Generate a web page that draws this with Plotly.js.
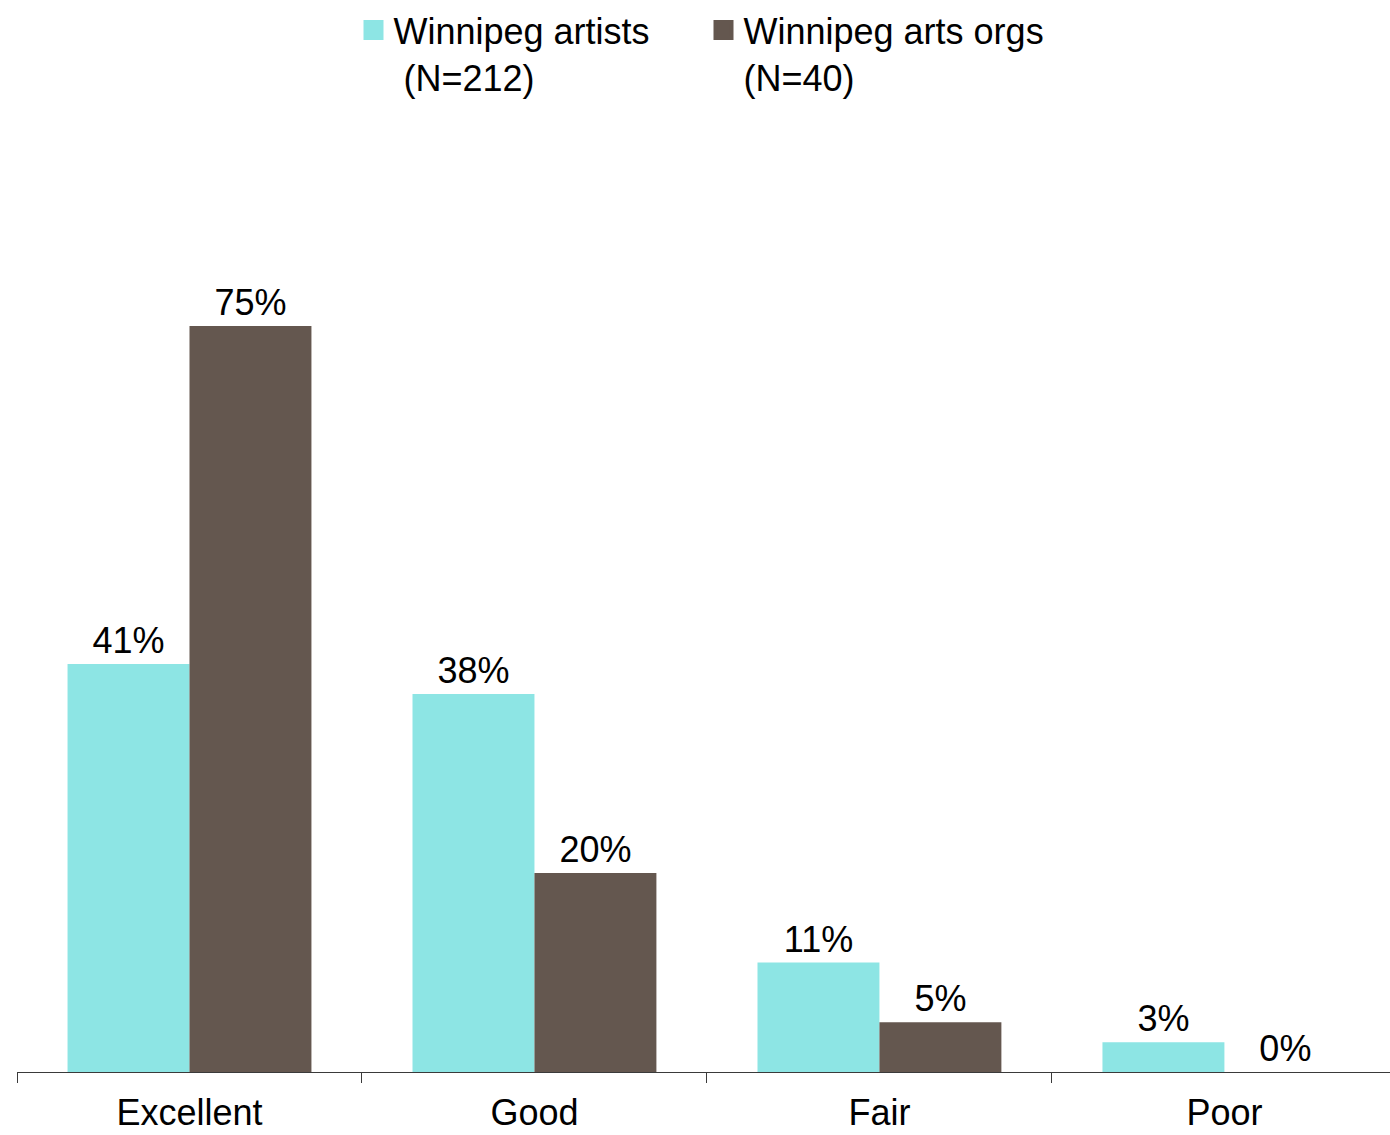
<!DOCTYPE html>
<html>
<head>
<meta charset="utf-8">
<script src="https://cdn.plot.ly/plotly-3.0.1.min.js"></script>
<style>html,body{margin:0;padding:0;background:#fff;}#chart{width:1390px;height:1135px;}</style>
</head>
<body>
<div id="chart"></div>
<script>
const categories = ["Excellent", "Good", "Fair", "Poor"];
const artists = [41, 38, 11, 3];
const orgs = [75, 20, 5, 0];
const seriesNames = ["Winnipeg artists<br>\u00a0(N=212)", "Winnipeg arts orgs<br>(N=40)"];
const colors = ["#8de5e4", "#64574f"];

const fmt = v => v + "%";
const barTrace = (vals, i) => ({
  type: "bar", x: categories, y: vals, name: seriesNames[i], showlegend: false,
  legendgroup: "g" + i, marker: {color: colors[i]},
  text: vals.map(fmt), textposition: "outside", cliponaxis: false,
  textfont: {size: 36, color: "#000"}
});
const legendTrace = i => ({
  type: "scatter", mode: "markers", x: [null], y: [null], name: seriesNames[i],
  legendgroup: "g" + i, hoverinfo: "skip",
  marker: {symbol: "square", size: 16, color: colors[i], line: {color: colors[i], width: 4}}
});
const traces = [barTrace(artists, 0), barTrace(orgs, 1), legendTrace(0), legendTrace(1)];

const layout = {
  width: 1390, height: 1135,
  margin: {l: 17, r: 0, t: 110, b: 63},
  paper_bgcolor: "#fff", plot_bgcolor: "#fff",
  font: {family: "Liberation Sans, Arial, sans-serif", size: 36, color: "#000"},
  barmode: "group", bargap: 0.293, bargroupgap: 0,
  showlegend: true,
  legend: {orientation: "h", x: 0.5, xanchor: "center", yref: "container", y: 1, yanchor: "top",
           valign: "top", font: {size: 36, color: "#000"}, traceorder: "normal",
           entrywidth: 305, itemwidth: 30},
  xaxis: {type: "category", range: [-0.5, 3.48], showline: true, linecolor: "#3a3a3a", linewidth: 1,
          ticks: "outside", tickson: "boundaries", ticklen: 10, tickcolor: "#3a3a3a",
          ticklabelstandoff: 9,
          showgrid: false, zeroline: false, tickfont: {size: 36, color: "#000"}},
  yaxis: {range: [0, 96.7], visible: false, showgrid: false, zeroline: false}
};

Plotly.newPlot("chart", traces, layout, {displayModeBar: false, staticPlot: true});
</script>
</body>
</html>
